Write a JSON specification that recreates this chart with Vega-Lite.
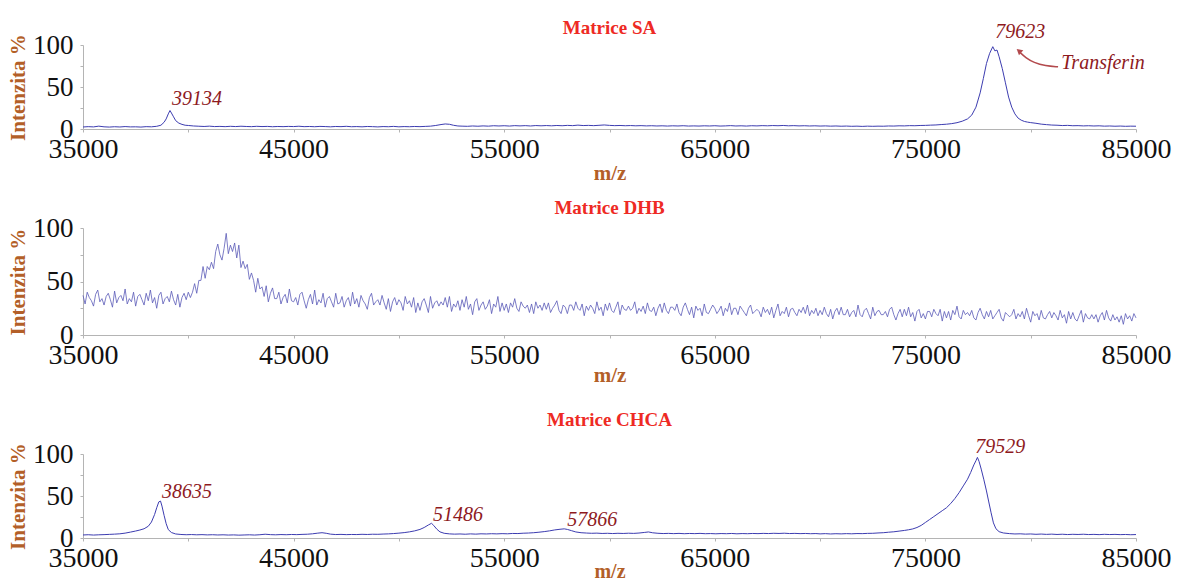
{
  "$schema": "https://vega.github.io/schema/vega-lite/v6.json",
  "padding": {"left": 7, "top": 19, "right": 5, "bottom": 0},
  "spacing": 16,
  "config": {
    "font": "Liberation Serif",
    "view": {"stroke": null},
    "axis": {"grid": false, "domainColor": "#b4b4b4", "tickColor": "#b4b4b4", "tickSize": 3, "labelColor": "#111111", "labelFont": "Liberation Serif", "titleFont": "Liberation Serif", "titleColor": "#b35f28", "titleFontWeight": "bold"},
    "title": {"font": "Liberation Serif", "fontSize": 19, "fontWeight": "bold", "color": "#ee2a24", "frame": "group"},
    "text": {"font": "Liberation Serif", "fontStyle": "italic", "fontSize": 20, "color": "#8e1a1e", "align": "left"}
  },
  "datasets": {
    "sa": [
      {"m":35000,"i":2.4},{"m":35250,"i":2.8},{"m":35500,"i":2.5},{"m":35750,"i":3.4},{"m":36000,"i":2.6},{"m":36250,"i":2.3},{"m":36500,"i":2.7},{"m":36750,"i":2.4},{"m":37000,"i":2.9},{"m":37250,"i":2.5},{"m":37500,"i":2.6},{"m":37750,"i":2.3},{"m":38000,"i":2.8},{"m":38250,"i":2.6},{"m":38500,"i":3.2},{"m":38700,"i":4.5},{"m":38850,"i":8},{"m":38950,"i":12},{"m":39050,"i":18},{"m":39130,"i":22},{"m":39200,"i":19},{"m":39300,"i":14.5},{"m":39400,"i":10},{"m":39550,"i":7},{"m":39700,"i":5.5},{"m":39850,"i":4.5},{"m":40000,"i":4.2},{"m":40250,"i":3.6},{"m":40500,"i":3.3},{"m":40750,"i":3.0},{"m":41000,"i":3.4},{"m":41250,"i":2.9},{"m":41500,"i":3.1},{"m":41750,"i":2.8},{"m":42000,"i":3.2},{"m":42250,"i":2.9},{"m":42500,"i":3.3},{"m":42750,"i":3.0},{"m":43000,"i":2.8},{"m":43250,"i":3.2},{"m":43500,"i":2.9},{"m":43750,"i":3.1},{"m":44000,"i":2.7},{"m":44250,"i":3.0},{"m":44500,"i":2.8},{"m":44750,"i":3.1},{"m":45000,"i":2.9},{"m":45250,"i":3.3},{"m":45500,"i":2.8},{"m":45750,"i":3.0},{"m":46000,"i":2.7},{"m":46250,"i":3.1},{"m":46500,"i":2.9},{"m":46750,"i":2.6},{"m":47000,"i":3.0},{"m":47250,"i":2.8},{"m":47500,"i":3.2},{"m":47750,"i":2.7},{"m":48000,"i":2.9},{"m":48250,"i":2.6},{"m":48500,"i":3.0},{"m":48750,"i":2.8},{"m":49000,"i":2.5},{"m":49250,"i":2.9},{"m":49500,"i":2.7},{"m":49750,"i":3.1},{"m":50000,"i":2.6},{"m":50250,"i":2.9},{"m":50500,"i":2.7},{"m":50750,"i":3.0},{"m":51000,"i":2.8},{"m":51250,"i":3.1},{"m":51500,"i":3.4},{"m":51750,"i":4.2},{"m":52000,"i":5.3},{"m":52200,"i":6.0},{"m":52400,"i":5.6},{"m":52600,"i":4.4},{"m":52800,"i":3.6},{"m":53000,"i":3.4},{"m":53250,"i":3.2},{"m":53500,"i":3.6},{"m":53750,"i":3.3},{"m":54000,"i":3.7},{"m":54250,"i":3.4},{"m":54500,"i":3.9},{"m":54750,"i":3.6},{"m":55000,"i":3.9},{"m":55250,"i":3.5},{"m":55500,"i":4.0},{"m":55750,"i":3.7},{"m":56000,"i":4.0},{"m":56250,"i":3.6},{"m":56500,"i":4.1},{"m":56750,"i":3.8},{"m":57000,"i":4.1},{"m":57250,"i":3.8},{"m":57500,"i":4.2},{"m":57750,"i":3.9},{"m":58000,"i":4.3},{"m":58250,"i":4.0},{"m":58500,"i":4.6},{"m":58750,"i":4.1},{"m":59000,"i":4.3},{"m":59250,"i":4.0},{"m":59500,"i":4.4},{"m":59750,"i":4.8},{"m":60000,"i":4.3},{"m":60250,"i":4.0},{"m":60500,"i":4.2},{"m":60750,"i":3.9},{"m":61000,"i":4.1},{"m":61250,"i":3.8},{"m":61500,"i":4.0},{"m":61750,"i":3.7},{"m":62000,"i":3.9},{"m":62250,"i":3.6},{"m":62500,"i":3.8},{"m":62750,"i":3.5},{"m":63000,"i":3.8},{"m":63250,"i":3.6},{"m":63500,"i":3.9},{"m":63750,"i":3.5},{"m":64000,"i":3.7},{"m":64250,"i":3.5},{"m":64500,"i":3.8},{"m":64750,"i":3.6},{"m":65000,"i":3.9},{"m":65250,"i":3.5},{"m":65500,"i":3.7},{"m":65750,"i":4.0},{"m":66000,"i":3.6},{"m":66250,"i":3.8},{"m":66500,"i":3.5},{"m":66750,"i":3.9},{"m":67000,"i":3.7},{"m":67250,"i":4.0},{"m":67500,"i":3.8},{"m":67750,"i":4.1},{"m":68000,"i":3.9},{"m":68250,"i":4.2},{"m":68500,"i":3.8},{"m":68750,"i":4.0},{"m":69000,"i":3.7},{"m":69250,"i":3.9},{"m":69500,"i":3.6},{"m":69750,"i":3.8},{"m":70000,"i":3.5},{"m":70250,"i":3.7},{"m":70500,"i":3.4},{"m":70750,"i":3.6},{"m":71000,"i":3.3},{"m":71250,"i":3.5},{"m":71500,"i":3.2},{"m":71750,"i":3.4},{"m":72000,"i":3.1},{"m":72250,"i":3.4},{"m":72500,"i":3.2},{"m":72750,"i":3.4},{"m":73000,"i":3.3},{"m":73250,"i":3.6},{"m":73500,"i":3.5},{"m":73750,"i":3.8},{"m":74000,"i":3.7},{"m":74250,"i":4.0},{"m":74500,"i":3.9},{"m":74750,"i":4.2},{"m":75000,"i":4.3},{"m":75250,"i":4.6},{"m":75500,"i":4.8},{"m":75750,"i":5.3},{"m":76000,"i":5.7},{"m":76250,"i":6.4},{"m":76500,"i":7.5},{"m":76750,"i":9.3},{"m":77000,"i":12},{"m":77200,"i":16.5},{"m":77400,"i":26},{"m":77600,"i":43},{"m":77750,"i":60},{"m":77900,"i":78},{"m":78050,"i":90},{"m":78200,"i":98},{"m":78300,"i":93},{"m":78400,"i":94},{"m":78500,"i":86},{"m":78650,"i":72},{"m":78800,"i":55},{"m":78950,"i":38},{"m":79100,"i":26},{"m":79250,"i":18},{"m":79400,"i":13},{"m":79550,"i":10.5},{"m":79700,"i":9.0},{"m":79850,"i":8.2},{"m":80000,"i":7.6},{"m":80250,"i":6.8},{"m":80500,"i":5.8},{"m":80750,"i":5.2},{"m":81000,"i":4.7},{"m":81250,"i":4.5},{"m":81500,"i":4.1},{"m":81750,"i":4.3},{"m":82000,"i":3.9},{"m":82250,"i":4.0},{"m":82500,"i":3.7},{"m":82750,"i":3.9},{"m":83000,"i":3.6},{"m":83250,"i":3.8},{"m":83500,"i":3.4},{"m":83750,"i":3.6},{"m":84000,"i":3.3},{"m":84250,"i":3.5},{"m":84500,"i":3.2},{"m":84750,"i":3.4},{"m":85000,"i":3.3}
    ],
    "saLabels": [
      {"m":39230,"i":29,"t":"39134"},
      {"m":78320,"i":108,"t":"79623"},
      {"m":81455,"i":72,"t":"Transferin"}
    ],
    "arrow": [
      {"m":81300,"i":74,"o":1},{"m":80700,"i":75,"o":2},{"m":80150,"i":79,"o":3},{"m":79750,"i":85,"o":4},{"m":79500,"i":91,"o":5}
    ],
    "arrowHead": [{"m":79440,"i":93}],
    "dhb": [
      {"m":35000,"i":37},{"m":35100,"i":29},{"m":35200,"i":40},{"m":35300,"i":35},{"m":35400,"i":32},{"m":35500,"i":27},{"m":35600,"i":38},{"m":35700,"i":42},{"m":35800,"i":31},{"m":35900,"i":34},
      {"m":36000,"i":28},{"m":36100,"i":36},{"m":36200,"i":39},{"m":36300,"i":33},{"m":36400,"i":26},{"m":36500,"i":41},{"m":36600,"i":30},{"m":36700,"i":35},{"m":36800,"i":37},{"m":36900,"i":32},
      {"m":37000,"i":43},{"m":37100,"i":29},{"m":37200,"i":34},{"m":37300,"i":31},{"m":37400,"i":40},{"m":37500,"i":27},{"m":37600,"i":36},{"m":37700,"i":38},{"m":37800,"i":33},{"m":37900,"i":28},
      {"m":38000,"i":39},{"m":38100,"i":32},{"m":38200,"i":42},{"m":38300,"i":30},{"m":38400,"i":35},{"m":38500,"i":25},{"m":38600,"i":37},{"m":38700,"i":40},{"m":38800,"i":29},{"m":38900,"i":34},
      {"m":39000,"i":36},{"m":39100,"i":31},{"m":39200,"i":41},{"m":39300,"i":33},{"m":39400,"i":28},{"m":39500,"i":38},{"m":39600,"i":26},{"m":39700,"i":35},{"m":39800,"i":39},{"m":39900,"i":33},
      {"m":40000,"i":40},{"m":40100,"i":35},{"m":40200,"i":40},{"m":40300,"i":48},{"m":40400,"i":39},{"m":40500,"i":51},{"m":40600,"i":51},{"m":40700,"i":64},{"m":40800,"i":53},{"m":40900,"i":64},
      {"m":41000,"i":61},{"m":41100,"i":68},{"m":41200,"i":62},{"m":41300,"i":78},{"m":41400,"i":85},{"m":41500,"i":75},{"m":41600,"i":70},{"m":41700,"i":81},{"m":41800,"i":95},{"m":41900,"i":76},
      {"m":42000,"i":84},{"m":42100,"i":78},{"m":42200,"i":86},{"m":42300,"i":72},{"m":42400,"i":84},{"m":42500,"i":63},{"m":42600,"i":69},{"m":42700,"i":62},{"m":42800,"i":66},{"m":42900,"i":52},
      {"m":43000,"i":58},{"m":43100,"i":51},{"m":43200,"i":40},{"m":43300,"i":53},{"m":43400,"i":43},{"m":43500,"i":45},{"m":43600,"i":36},{"m":43700,"i":46},{"m":43800,"i":31},{"m":43900,"i":39},
      {"m":44000,"i":44},{"m":44100,"i":34},{"m":44200,"i":34},{"m":44300,"i":40},{"m":44400,"i":29},{"m":44500,"i":35},{"m":44600,"i":38},{"m":44700,"i":30},{"m":44800,"i":43},{"m":44900,"i":32},
      {"m":45000,"i":31},{"m":45100,"i":35},{"m":45200,"i":28},{"m":45300,"i":38},{"m":45400,"i":40},{"m":45500,"i":32},{"m":45600,"i":25},{"m":45700,"i":33},{"m":45800,"i":38},{"m":45900,"i":29},
      {"m":46000,"i":42},{"m":46100,"i":28},{"m":46200,"i":33},{"m":46300,"i":30},{"m":46400,"i":39},{"m":46500,"i":26},{"m":46600,"i":34},{"m":46700,"i":36},{"m":46800,"i":31},{"m":46900,"i":26},
      {"m":47000,"i":39},{"m":47100,"i":29},{"m":47200,"i":30},{"m":47300,"i":36},{"m":47400,"i":26},{"m":47500,"i":32},{"m":47600,"i":35},{"m":47700,"i":27},{"m":47800,"i":40},{"m":47900,"i":29},
      {"m":48000,"i":34},{"m":48100,"i":26},{"m":48200,"i":37},{"m":48300,"i":32},{"m":48400,"i":29},{"m":48500,"i":24},{"m":48600,"i":35},{"m":48700,"i":39},{"m":48800,"i":28},{"m":48900,"i":31},
      {"m":49000,"i":33},{"m":49100,"i":28},{"m":49200,"i":37},{"m":49300,"i":30},{"m":49400,"i":24},{"m":49500,"i":34},{"m":49600,"i":22},{"m":49700,"i":31},{"m":49800,"i":35},{"m":49900,"i":28},
      {"m":50000,"i":33},{"m":50100,"i":30},{"m":50200,"i":23},{"m":50300,"i":36},{"m":50400,"i":29},{"m":50500,"i":32},{"m":50600,"i":26},{"m":50700,"i":35},{"m":50800,"i":21},{"m":50900,"i":30},
      {"m":51000,"i":23},{"m":51100,"i":31},{"m":51200,"i":34},{"m":51300,"i":28},{"m":51400,"i":21},{"m":51500,"i":36},{"m":51600,"i":25},{"m":51700,"i":30},{"m":51800,"i":32},{"m":51900,"i":27},
      {"m":52000,"i":31},{"m":52100,"i":28},{"m":52200,"i":35},{"m":52300,"i":26},{"m":52400,"i":36},{"m":52500,"i":22},{"m":52600,"i":29},{"m":52700,"i":26},{"m":52800,"i":32},{"m":52900,"i":23},
      {"m":53000,"i":33},{"m":53100,"i":26},{"m":53200,"i":36},{"m":53300,"i":24},{"m":53400,"i":29},{"m":53500,"i":19},{"m":53600,"i":31},{"m":53700,"i":34},{"m":53800,"i":23},{"m":53900,"i":28},
      {"m":54000,"i":31},{"m":54100,"i":24},{"m":54200,"i":27},{"m":54300,"i":33},{"m":54400,"i":20},{"m":54500,"i":29},{"m":54600,"i":26},{"m":54700,"i":36},{"m":54800,"i":22},{"m":54900,"i":30},
      {"m":55000,"i":23},{"m":55100,"i":29},{"m":55200,"i":21},{"m":55300,"i":30},{"m":55400,"i":26},{"m":55500,"i":34},{"m":55600,"i":25},{"m":55700,"i":22},{"m":55800,"i":31},{"m":55900,"i":27},
      {"m":56000,"i":25},{"m":56100,"i":28},{"m":56200,"i":21},{"m":56300,"i":29},{"m":56400,"i":20},{"m":56500,"i":31},{"m":56600,"i":25},{"m":56700,"i":28},{"m":56800,"i":23},{"m":56900,"i":30},
      {"m":57000,"i":24},{"m":57100,"i":30},{"m":57200,"i":21},{"m":57300,"i":25},{"m":57400,"i":28},{"m":57500,"i":32},{"m":57600,"i":23},{"m":57700,"i":20},{"m":57800,"i":28},{"m":57900,"i":26},
      {"m":58000,"i":20},{"m":58100,"i":28},{"m":58200,"i":28},{"m":58300,"i":23},{"m":58400,"i":31},{"m":58500,"i":25},{"m":58600,"i":23},{"m":58700,"i":29},{"m":58800,"i":18},{"m":58900,"i":27},
      {"m":59000,"i":23},{"m":59100,"i":28},{"m":59200,"i":25},{"m":59300,"i":20},{"m":59400,"i":31},{"m":59500,"i":23},{"m":59600,"i":26},{"m":59700,"i":18},{"m":59800,"i":29},{"m":59900,"i":23},
      {"m":60000,"i":30},{"m":60100,"i":23},{"m":60200,"i":21},{"m":60300,"i":26},{"m":60400,"i":31},{"m":60500,"i":19},{"m":60600,"i":28},{"m":60700,"i":24},{"m":60800,"i":23},{"m":60900,"i":27},
      {"m":61000,"i":23},{"m":61100,"i":25},{"m":61200,"i":31},{"m":61300,"i":20},{"m":61400,"i":25},{"m":61500,"i":22},{"m":61600,"i":27},{"m":61700,"i":20},{"m":61800,"i":30},{"m":61900,"i":23},
      {"m":62000,"i":22},{"m":62100,"i":26},{"m":62200,"i":18},{"m":62300,"i":25},{"m":62400,"i":29},{"m":62500,"i":21},{"m":62600,"i":30},{"m":62700,"i":23},{"m":62800,"i":20},{"m":62900,"i":26},
      {"m":63000,"i":26},{"m":63100,"i":23},{"m":63200,"i":29},{"m":63300,"i":21},{"m":63400,"i":18},{"m":63500,"i":26},{"m":63600,"i":30},{"m":63700,"i":24},{"m":63800,"i":19},{"m":63900,"i":26},
      {"m":64000,"i":16},{"m":64100,"i":27},{"m":64200,"i":23},{"m":64300,"i":25},{"m":64400,"i":18},{"m":64500,"i":29},{"m":64600,"i":21},{"m":64700,"i":20},{"m":64800,"i":24},{"m":64900,"i":28},
      {"m":65000,"i":25},{"m":65100,"i":20},{"m":65200,"i":23},{"m":65300,"i":27},{"m":65400,"i":18},{"m":65500,"i":25},{"m":65600,"i":22},{"m":65700,"i":30},{"m":65800,"i":19},{"m":65900,"i":25},
      {"m":66000,"i":25},{"m":66100,"i":19},{"m":66200,"i":27},{"m":66300,"i":24},{"m":66400,"i":21},{"m":66500,"i":18},{"m":66600,"i":25},{"m":66700,"i":28},{"m":66800,"i":20},{"m":66900,"i":22},
      {"m":67000,"i":24},{"m":67100,"i":22},{"m":67200,"i":17},{"m":67300,"i":26},{"m":67400,"i":21},{"m":67500,"i":24},{"m":67600,"i":19},{"m":67700,"i":26},{"m":67800,"i":16},{"m":67900,"i":23},
      {"m":68000,"i":29},{"m":68100,"i":18},{"m":68200,"i":22},{"m":68300,"i":20},{"m":68400,"i":26},{"m":68500,"i":17},{"m":68600,"i":24},{"m":68700,"i":25},{"m":68800,"i":21},{"m":68900,"i":18},
      {"m":69000,"i":24},{"m":69100,"i":21},{"m":69200,"i":26},{"m":69300,"i":20},{"m":69400,"i":28},{"m":69500,"i":18},{"m":69600,"i":23},{"m":69700,"i":20},{"m":69800,"i":25},{"m":69900,"i":18},
      {"m":70000,"i":23},{"m":70100,"i":19},{"m":70200,"i":26},{"m":70300,"i":20},{"m":70400,"i":17},{"m":70500,"i":24},{"m":70600,"i":15},{"m":70700,"i":22},{"m":70800,"i":25},{"m":70900,"i":19},
      {"m":71000,"i":26},{"m":71100,"i":19},{"m":71200,"i":19},{"m":71300,"i":24},{"m":71400,"i":17},{"m":71500,"i":21},{"m":71600,"i":23},{"m":71700,"i":17},{"m":71800,"i":28},{"m":71900,"i":19},
      {"m":72000,"i":17},{"m":72100,"i":23},{"m":72200,"i":25},{"m":72300,"i":20},{"m":72400,"i":15},{"m":72500,"i":26},{"m":72600,"i":18},{"m":72700,"i":22},{"m":72800,"i":23},{"m":72900,"i":19},
      {"m":73000,"i":19},{"m":73100,"i":22},{"m":73200,"i":17},{"m":73300,"i":24},{"m":73400,"i":26},{"m":73500,"i":19},{"m":73600,"i":14},{"m":73700,"i":20},{"m":73800,"i":24},{"m":73900,"i":17},
      {"m":74000,"i":24},{"m":74100,"i":18},{"m":74200,"i":26},{"m":74300,"i":17},{"m":74400,"i":21},{"m":74500,"i":13},{"m":74600,"i":22},{"m":74700,"i":24},{"m":74800,"i":16},{"m":74900,"i":20},
      {"m":75000,"i":15},{"m":75100,"i":22},{"m":75200,"i":22},{"m":75300,"i":17},{"m":75400,"i":24},{"m":75500,"i":20},{"m":75600,"i":18},{"m":75700,"i":24},{"m":75800,"i":13},{"m":75900,"i":22},
      {"m":76000,"i":16},{"m":76100,"i":22},{"m":76200,"i":14},{"m":76300,"i":23},{"m":76400,"i":19},{"m":76500,"i":27},{"m":76600,"i":17},{"m":76700,"i":15},{"m":76800,"i":23},{"m":76900,"i":19},
      {"m":77000,"i":21},{"m":77100,"i":18},{"m":77200,"i":23},{"m":77300,"i":16},{"m":77400,"i":14},{"m":77500,"i":21},{"m":77600,"i":25},{"m":77700,"i":19},{"m":77800,"i":15},{"m":77900,"i":22},
      {"m":78000,"i":17},{"m":78100,"i":23},{"m":78200,"i":15},{"m":78300,"i":18},{"m":78400,"i":21},{"m":78500,"i":24},{"m":78600,"i":16},{"m":78700,"i":13},{"m":78800,"i":21},{"m":78900,"i":19},
      {"m":79000,"i":17},{"m":79100,"i":19},{"m":79200,"i":24},{"m":79300,"i":15},{"m":79400,"i":20},{"m":79500,"i":17},{"m":79600,"i":22},{"m":79700,"i":15},{"m":79800,"i":25},{"m":79900,"i":18},
      {"m":80000,"i":12},{"m":80100,"i":22},{"m":80200,"i":18},{"m":80300,"i":20},{"m":80400,"i":14},{"m":80500,"i":23},{"m":80600,"i":16},{"m":80700,"i":15},{"m":80800,"i":19},{"m":80900,"i":22},
      {"m":81000,"i":16},{"m":81100,"i":21},{"m":81200,"i":18},{"m":81300,"i":14},{"m":81400,"i":23},{"m":81500,"i":16},{"m":81600,"i":19},{"m":81700,"i":11},{"m":81800,"i":22},{"m":81900,"i":15},
      {"m":82000,"i":21},{"m":82100,"i":15},{"m":82200,"i":13},{"m":82300,"i":18},{"m":82400,"i":23},{"m":82500,"i":12},{"m":82600,"i":20},{"m":82700,"i":16},{"m":82800,"i":15},{"m":82900,"i":19},
      {"m":83000,"i":15},{"m":83100,"i":19},{"m":83200,"i":12},{"m":83300,"i":18},{"m":83400,"i":21},{"m":83500,"i":14},{"m":83600,"i":23},{"m":83700,"i":16},{"m":83800,"i":13},{"m":83900,"i":19},
      {"m":84000,"i":14},{"m":84100,"i":17},{"m":84200,"i":12},{"m":84300,"i":18},{"m":84400,"i":10},{"m":84500,"i":20},{"m":84600,"i":15},{"m":84700,"i":18},{"m":84800,"i":13},{"m":84900,"i":20},
      {"m":85000,"i":16}
    ],
    "chca": [
      {"m":35000,"i":3.6},{"m":35250,"i":3.9},{"m":35500,"i":3.5},{"m":35750,"i":3.8},{"m":36000,"i":4.0},{"m":36250,"i":4.3},{"m":36500,"i":4.6},{"m":36750,"i":5.0},{"m":37000,"i":5.8},{"m":37250,"i":7.0},{"m":37500,"i":8.3},{"m":37700,"i":9.5},{"m":37900,"i":11},{"m":38100,"i":14},{"m":38250,"i":19},{"m":38400,"i":28},{"m":38500,"i":36},{"m":38600,"i":43},{"m":38680,"i":44},{"m":38750,"i":38},{"m":38850,"i":27},{"m":38950,"i":17},{"m":39050,"i":10},{"m":39200,"i":6.5},{"m":39400,"i":4.8},{"m":39650,"i":4.2},{"m":39900,"i":3.9},{"m":40150,"i":4.1},{"m":40400,"i":3.8},{"m":40650,"i":4.0},{"m":40900,"i":3.7},{"m":41150,"i":3.9},{"m":41400,"i":3.6},{"m":41650,"i":3.8},{"m":41900,"i":3.5},{"m":42150,"i":3.7},{"m":42400,"i":3.4},{"m":42650,"i":3.6},{"m":42900,"i":3.8},{"m":43150,"i":3.5},{"m":43400,"i":3.9},{"m":43650,"i":4.5},{"m":43900,"i":4.0},{"m":44150,"i":3.8},{"m":44400,"i":4.1},{"m":44650,"i":3.9},{"m":44900,"i":4.2},{"m":45150,"i":4.0},{"m":45400,"i":4.3},{"m":45650,"i":4.5},{"m":45900,"i":5.0},{"m":46150,"i":5.8},{"m":46350,"i":6.3},{"m":46550,"i":5.6},{"m":46750,"i":4.6},{"m":47000,"i":4.1},{"m":47250,"i":4.3},{"m":47500,"i":4.0},{"m":47750,"i":4.2},{"m":48000,"i":4.1},{"m":48250,"i":4.4},{"m":48500,"i":4.2},{"m":48750,"i":4.5},{"m":49000,"i":4.4},{"m":49250,"i":4.7},{"m":49500,"i":4.9},{"m":49750,"i":5.3},{"m":50000,"i":5.8},{"m":50250,"i":6.4},{"m":50500,"i":7.3},{"m":50750,"i":8.5},{"m":51000,"i":10.2},{"m":51200,"i":12.5},{"m":51400,"i":15.5},{"m":51550,"i":17.5},{"m":51650,"i":15},{"m":51800,"i":10.5},{"m":51950,"i":7.3},{"m":52150,"i":5.6},{"m":52400,"i":4.9},{"m":52650,"i":4.6},{"m":52900,"i":4.8},{"m":53150,"i":4.5},{"m":53400,"i":4.9},{"m":53650,"i":4.6},{"m":53900,"i":5.0},{"m":54150,"i":4.8},{"m":54400,"i":5.1},{"m":54650,"i":4.9},{"m":54900,"i":5.2},{"m":55150,"i":5.0},{"m":55400,"i":5.4},{"m":55650,"i":5.3},{"m":55900,"i":5.7},{"m":56150,"i":5.9},{"m":56400,"i":6.3},{"m":56650,"i":6.9},{"m":56900,"i":7.6},{"m":57150,"i":8.5},{"m":57400,"i":9.6},{"m":57650,"i":10.4},{"m":57850,"i":10.9},{"m":58000,"i":10.2},{"m":58200,"i":8.7},{"m":58400,"i":7.2},{"m":58650,"i":6.3},{"m":58900,"i":5.9},{"m":59150,"i":5.6},{"m":59400,"i":5.8},{"m":59650,"i":5.4},{"m":59900,"i":5.6},{"m":60150,"i":5.3},{"m":60400,"i":5.6},{"m":60650,"i":5.4},{"m":60900,"i":5.7},{"m":61150,"i":5.5},{"m":61400,"i":5.9},{"m":61650,"i":6.6},{"m":61850,"i":7.2},{"m":62050,"i":6.2},{"m":62300,"i":5.6},{"m":62550,"i":5.3},{"m":62800,"i":5.5},{"m":63050,"i":5.2},{"m":63300,"i":5.5},{"m":63550,"i":5.1},{"m":63800,"i":5.4},{"m":64050,"i":5.2},{"m":64300,"i":5.5},{"m":64550,"i":5.1},{"m":64800,"i":5.3},{"m":65050,"i":5.0},{"m":65300,"i":5.3},{"m":65550,"i":5.1},{"m":65800,"i":5.4},{"m":66050,"i":5.0},{"m":66300,"i":5.3},{"m":66550,"i":5.1},{"m":66800,"i":5.4},{"m":67050,"i":5.2},{"m":67300,"i":5.5},{"m":67550,"i":5.3},{"m":67800,"i":5.6},{"m":68050,"i":5.4},{"m":68300,"i":5.7},{"m":68550,"i":5.3},{"m":68800,"i":5.5},{"m":69050,"i":5.2},{"m":69300,"i":5.4},{"m":69550,"i":5.1},{"m":69800,"i":5.3},{"m":70000,"i":4.9},{"m":70250,"i":5.2},{"m":70500,"i":4.8},{"m":70750,"i":5.1},{"m":71000,"i":4.9},{"m":71250,"i":5.2},{"m":71500,"i":5.0},{"m":71750,"i":5.3},{"m":72000,"i":5.2},{"m":72250,"i":5.5},{"m":72500,"i":5.6},{"m":72750,"i":6.0},{"m":73000,"i":6.3},{"m":73250,"i":6.9},{"m":73500,"i":7.4},{"m":73750,"i":8.2},{"m":74000,"i":9.0},{"m":74200,"i":9.8},{"m":74400,"i":10.8},{"m":74600,"i":12.5},{"m":74800,"i":15},{"m":75000,"i":18.5},{"m":75200,"i":22},{"m":75400,"i":25.5},{"m":75600,"i":29},{"m":75800,"i":32.5},{"m":76000,"i":36},{"m":76200,"i":41},{"m":76400,"i":47},{"m":76600,"i":54},{"m":76800,"i":62},{"m":77000,"i":70},{"m":77150,"i":78},{"m":77300,"i":87},{"m":77400,"i":92},{"m":77470,"i":96},{"m":77550,"i":91},{"m":77650,"i":82},{"m":77770,"i":70},{"m":77900,"i":56},{"m":78000,"i":44},{"m":78120,"i":30},{"m":78230,"i":18},{"m":78350,"i":11},{"m":78500,"i":7.5},{"m":78700,"i":6.0},{"m":79000,"i":5.2},{"m":79250,"i":4.8},{"m":79500,"i":5.0},{"m":79750,"i":4.6},{"m":80000,"i":4.8},{"m":80250,"i":4.4},{"m":80500,"i":4.7},{"m":80750,"i":4.3},{"m":81000,"i":4.6},{"m":81250,"i":4.2},{"m":81500,"i":4.5},{"m":81750,"i":4.1},{"m":82000,"i":4.4},{"m":82250,"i":4.2},{"m":82500,"i":4.5},{"m":82750,"i":4.1},{"m":83000,"i":4.3},{"m":83250,"i":4.0},{"m":83500,"i":4.4},{"m":83750,"i":4.1},{"m":84000,"i":4.3},{"m":84250,"i":4.0},{"m":84500,"i":4.2},{"m":84750,"i":3.9},{"m":85000,"i":4.1}
    ],
    "chcaLabels": [
      {"m":38750,"i":48,"t":"38635"},
      {"m":51620,"i":20,"t":"51486"},
      {"m":57990,"i":14,"t":"57866"},
      {"m":77370,"i":101,"t":"79529"}
    ]
  },
  "vconcat": [
    {
      "width": 1053,
      "height": 84,
      "title": {"text": "Matrice SA", "offset": -16},
      "encoding": {
        "x": {"field": "m", "type": "quantitative", "scale": {"domain": [35000, 85000], "nice": false, "zero": false},
              "axis": {"title": "m/z", "values": [35000,40000,45000,50000,55000,60000,65000,70000,75000,80000,85000], "format": "d", "labelExpr": "datum.value % 10000 == 5000 ? datum.label : ''", "labelFontSize": 28, "labelPadding": 3, "labelDx": 8, "labelOverlap": false, "labelFlush": false, "titleFontSize": 21, "titlePadding": -1}},
        "y": {"field": "i", "type": "quantitative", "scale": {"domain": [0, 100], "nice": false},
              "axis": {"title": "Intenzita %", "values": [0,25,50,75,100], "labelExpr": "datum.value % 50 == 0 ? datum.label : ''", "labelFontSize": 27, "labelPadding": 7, "titleFontSize": 21, "titlePadding": 4}}
      },
      "layer": [
        {"data": {"name": "sa"}, "mark": {"type": "line", "color": "#3c3cb0", "strokeWidth": 1}},
        {"data": {"name": "saLabels"}, "mark": {"type": "text", "baseline": "alphabetic"}, "encoding": {"text": {"field": "t"}}},
        {"data": {"name": "arrow"}, "mark": {"type": "line", "color": "#b34a4d", "strokeWidth": 1.5, "interpolate": "basis"}, "encoding": {"order": {"field": "o"}}},
        {"data": {"name": "arrowHead"}, "mark": {"type": "point", "shape": "triangle-up", "filled": true, "color": "#b34a4d", "size": 45, "angle": -50, "opacity": 1}}
      ]
    },
    {
      "spacing": 26,
      "vconcat": [
        {
          "width": 1053,
          "height": 107,
          "title": {"text": "Matrice DHB", "offset": -4},
          "data": {"name": "dhb"},
          "mark": {"type": "line", "color": "#5a5ab8", "strokeWidth": 0.8},
          "encoding": {
            "x": {"field": "m", "type": "quantitative", "scale": {"domain": [35000, 85000], "nice": false, "zero": false},
                  "axis": {"title": "m/z", "values": [35000,40000,45000,50000,55000,60000,65000,70000,75000,80000,85000], "format": "d", "labelExpr": "datum.value % 10000 == 5000 ? datum.label : ''", "labelFontSize": 28, "labelPadding": 3, "labelDx": 8, "labelOverlap": false, "labelFlush": false, "titleFontSize": 21, "titlePadding": -5}},
            "y": {"field": "i", "type": "quantitative", "scale": {"domain": [0, 100], "nice": false},
                  "axis": {"title": "Intenzita %", "values": [0,25,50,75,100], "labelExpr": "datum.value % 50 == 0 ? datum.label : ''", "labelFontSize": 27, "labelPadding": 7, "titleFontSize": 21, "titlePadding": 4}}
          }
        },
        {
          "width": 1053,
          "height": 84,
          "title": {"text": "Matrice CHCA", "offset": 7},
          "encoding": {
            "x": {"field": "m", "type": "quantitative", "scale": {"domain": [35000, 85000], "nice": false, "zero": false},
                  "axis": {"title": "m/z", "values": [35000,40000,45000,50000,55000,60000,65000,70000,75000,80000,85000], "format": "d", "labelExpr": "datum.value % 10000 == 5000 ? datum.label : ''", "labelFontSize": 28, "labelPadding": 3, "labelDx": 8, "labelOverlap": false, "labelFlush": false, "titleFontSize": 20, "titlePadding": -11}},
            "y": {"field": "i", "type": "quantitative", "scale": {"domain": [0, 100], "nice": false},
                  "axis": {"title": "Intenzita %", "values": [0,25,50,75,100], "labelExpr": "datum.value % 50 == 0 ? datum.label : ''", "labelFontSize": 27, "labelPadding": 7, "titleFontSize": 21, "titlePadding": 4}}
          },
          "layer": [
            {"data": {"name": "chca"}, "mark": {"type": "line", "color": "#3c3cb0", "strokeWidth": 1}},
            {"data": {"name": "chcaLabels"}, "mark": {"type": "text", "baseline": "alphabetic"}, "encoding": {"text": {"field": "t"}}}
          ]
        }
      ]
    }
  ]
}
